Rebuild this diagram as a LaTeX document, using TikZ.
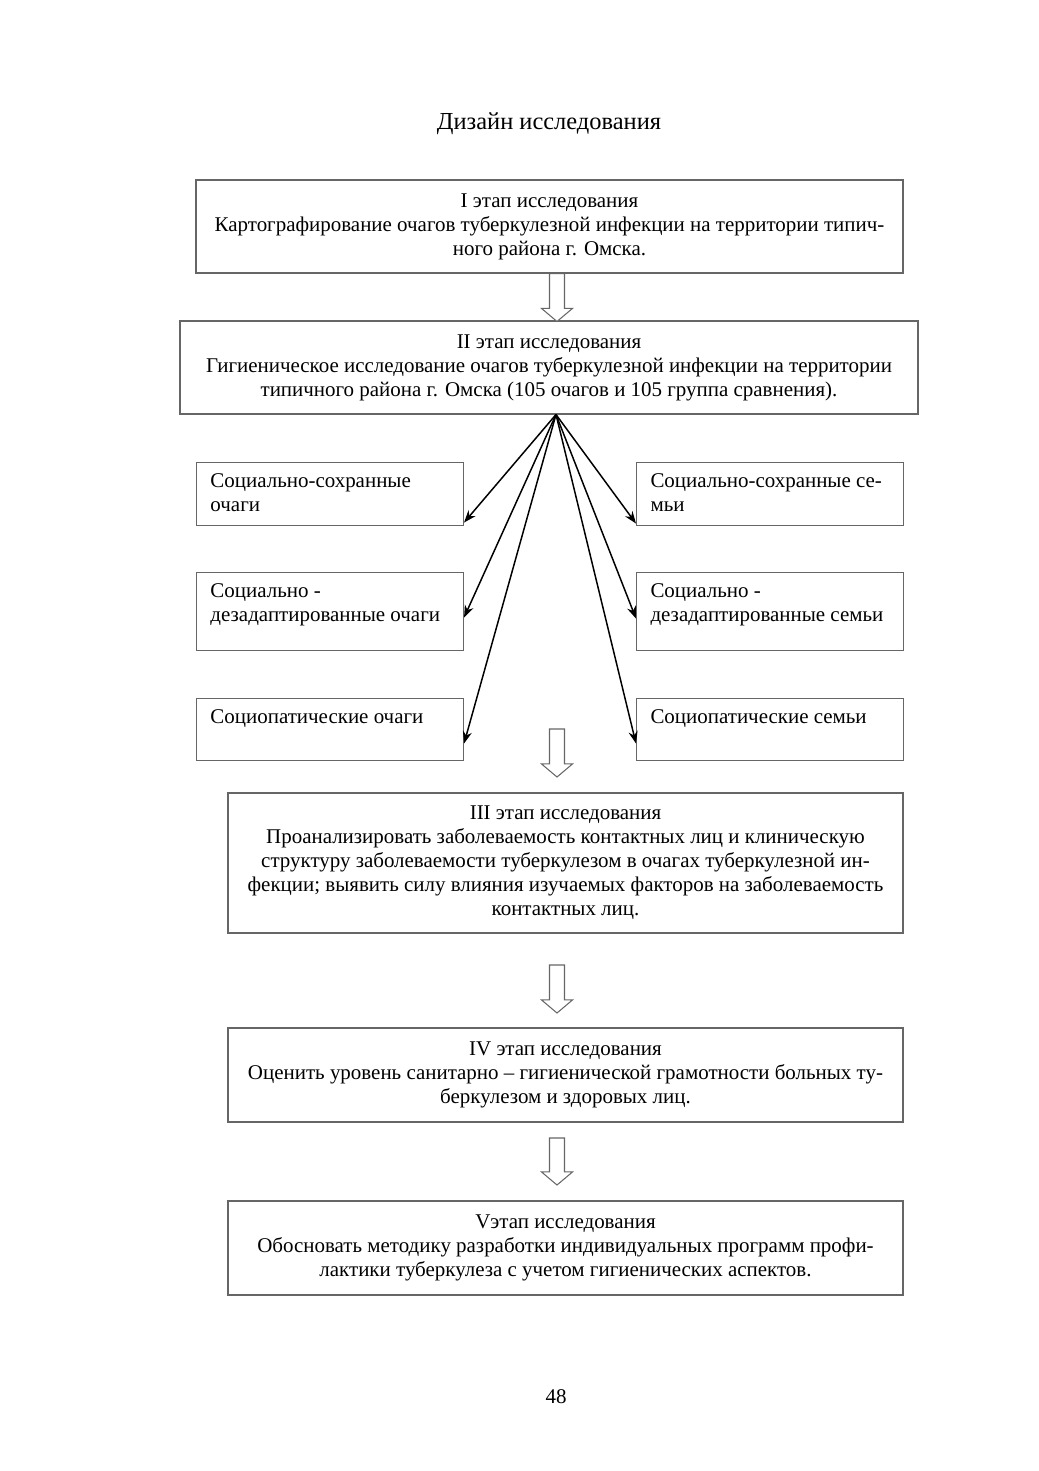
\documentclass[tikz,border=0pt]{standalone}
\usepackage{fontspec}
\setmainfont{Liberation Serif}
\usetikzlibrary{arrows.meta,calc}
\newcommand\pxu{0.5727pt}
\tikzset{stage/.style={draw=black!60,line width=0.6pt,align=center,inner sep=0pt},
 sidebox/.style={draw=black!60,line width=0.6pt,anchor=north west,inner xsep=8pt,inner ysep=4.5pt},
 fan/.style={-{Stealth[length=7pt,width=5.2pt]},line width=0.85pt},
 hollow/.style={draw=black!60,line width=0.6pt,fill=white},
 every node/.style={font=\fontsize{12}{13.75}\selectfont}}
\newcommand\sidetext[2]{\parbox[c][#1][t]{136.9pt}{\strut#2}}
\newcommand\hollowdown[2]{%
 \draw[hollow] let \p1=(#1), \p2=(#2) in
  (\x1-4.3pt,\y1) -- (\x1-4.3pt,\y2+7.5pt) -- (\x1-8.9pt,\y2+7.5pt) -- (\x2,\y2)
  -- (\x1+8.9pt,\y2+7.5pt) -- (\x1+4.3pt,\y2+7.5pt) -- (\x1+4.3pt,\y1) -- cycle;}

\begin{document}
\begin{tikzpicture}[x=\pxu,y=-\pxu]
\useasboundingbox (0,0) rectangle (1039,1471);
\node[font=\fontsize{14}{16}\selectfont] (title) at (549,124) {Дизайн исследования};
% stages
\node[stage,minimum width=707*\pxu,minimum height=93*\pxu] (st1) at (549.5,226.5)
 {I этап исследования\\Картографирование очагов туберкулезной инфекции на территории типич-\\ного района г. Омска.};
\node[stage,minimum width=738*\pxu,minimum height=93*\pxu] (st2) at (549,367.5)
 {II этап исследования\\Гигиеническое исследование очагов туберкулезной инфекции на территории\\типичного района г. Омска (105 очагов и 105 группа сравнения).};
\node[stage,minimum width=675*\pxu,minimum height=140*\pxu] (st3) at (565.5,863)
 {III этап исследования\\Проанализировать заболеваемость контактных лиц и клиническую\\структуру заболеваемости туберкулезом в очагах туберкулезной ин-\\фекции; выявить силу влияния изучаемых факторов на заболеваемость\\контактных лиц.};
\node[stage,minimum width=675*\pxu,minimum height=94*\pxu] (st4) at (565.5,1075)
 {IV этап исследования\\Оценить уровень санитарно – гигиенической грамотности больных ту-\\беркулезом и здоровых лиц.};
\node[stage,minimum width=675*\pxu,minimum height=94*\pxu] (st5) at (565.5,1248)
 {Vэтап исследования\\Обосновать методику разработки индивидуальных программ профи-\\лактики туберкулеза с учетом гигиенических аспектов.};
% groups
\node[sidebox] (la) at (196,462) {\sidetext{27.1pt}{Социально-сохранные\\очаги}};
\node[sidebox] (lb) at (196,572) {\sidetext{35.7pt}{Социально -\\дезадаптированные очаги}};
\node[sidebox] (lc) at (196,698) {\sidetext{26.5pt}{Социопатические очаги}};
\node[sidebox] (ra) at (636,462) {\sidetext{27.1pt}{Социально-сохранные се-\\мьи}};
\node[sidebox] (rb) at (636,572) {\sidetext{35.7pt}{Социально -\\дезадаптированные семьи}};
\node[sidebox] (rc) at (636,698) {\sidetext{26.5pt}{Социопатические семьи}};
\node (pagenum) at (556,1397) {48};
% arrows
\coordinate (hub) at ($(st2.south)+(7,0)$);
\foreach \n/\dy in {la/28.5,lb/6,lc/14}
 \draw[fan] (hub) -- ($(\n.east)+(0,\dy)$);
\foreach \n/\dy in {ra/29.5,rb/7,rc/14}
 \draw[fan] (hub) -- ($(\n.west)+(0,\dy)$);
\coordinate (h1top) at ($(st1.south)+(7.5,0)$);
\coordinate (h1tip) at ($(st2.north)+(8,1)$);
\coordinate (h2top) at (557,729);
\coordinate (h2tip) at (557,777);
\coordinate (h3top) at (557,965);
\coordinate (h3tip) at (557,1013);
\coordinate (h4top) at (557,1138);
\coordinate (h4tip) at (557,1185);
\hollowdown{h1top}{h1tip}
\hollowdown{h2top}{h2tip}
\hollowdown{h3top}{h3tip}
\hollowdown{h4top}{h4tip}
\end{tikzpicture}
\end{document}
